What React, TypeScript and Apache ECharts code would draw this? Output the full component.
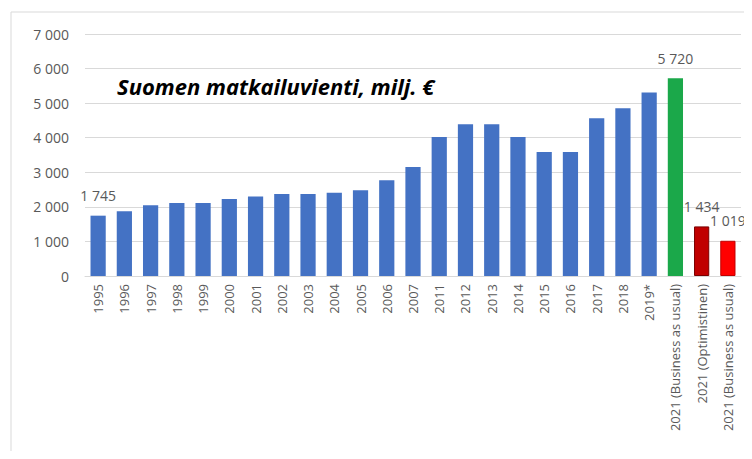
import React, { useEffect, useRef } from "react";
import * as echarts from "echarts";

const categories = [
  "1995", "1996", "1997", "1998", "1999", "2000", "2001", "2002", "2003", "2004",
  "2005", "2006", "2007", "2011", "2012", "2013", "2014", "2015", "2016", "2017",
  "2018", "2019*", "2021 (Business as usual)", "2021 (Optimistinen)", "2021 (Business as usual)",
];
const values = [
  1745, 1870, 2045, 2110, 2110, 2230, 2300, 2375, 2375, 2410,
  2480, 2770, 3150, 4020, 4390, 4390, 4020, 3585, 3585, 4565,
  4855, 5310, 5720, 1434, 1019,
];
const labelledIndices = [0, 22, 23, 24];
const yTicks = [0, 1000, 2000, 3000, 4000, 5000, 6000, 7000];
const titleText = "Suomen matkailuvienti, milj. €";

const fmt = (v: number) => String(v).replace(/\B(?=(\d{3})+(?!\d))/g, " ");

export default function App() {
  const ref = useRef<HTMLDivElement>(null);
  useEffect(() => {
    if (!ref.current) return;
    const chart = echarts.init(ref.current, null, { renderer: "svg" });
    const blue = "#4472C4";
    const colorFor = (i: number) => {
      if (i === 22) return { color: "#1BA84A", borderColor: "#1BA84A", borderWidth: 0 };
      if (i === 23) return { color: "#C00000", borderColor: "#7A0000", borderWidth: 1 };
      if (i === 24) return { color: "#FF0000", borderColor: "#C00000", borderWidth: 1 };
      return { color: blue };
    };
    const data = values.map((v, i) => ({
      value: v,
      itemStyle: colorFor(i),
      label: { show: labelledIndices.includes(i) },
    }));
    chart.setOption({
      animation: false,
      backgroundColor: "#ffffff",
      textStyle: { fontFamily: "Open Sans" },
      title: {
        text: titleText,
        left: 112,
        top: 70,
        textStyle: {
          fontFamily: "Open Sans",
          fontStyle: "italic",
          fontWeight: "bold",
          fontSize: 22,
          color: "#000000",
        },
      },
      graphic: [
        { type: "line", shape: { x1: 11, y1: 12, x2: 752, y2: 12 }, style: { stroke: "#d9d9d9", lineWidth: 1 } },
        { type: "line", shape: { x1: 11, y1: 12, x2: 11, y2: 459 }, style: { stroke: "#d9d9d9", lineWidth: 1 } },
      ],
      grid: { left: 85, right: 11, top: 34, bottom: 183, containLabel: false },
      xAxis: {
        type: "category",
        data: categories,
        axisTick: { show: false },
        axisLine: { lineStyle: { color: "#d9d9d9" } },
        axisLabel: {
          rotate: 90,
          interval: 0,
          color: "#595959",
          fontSize: 13,
          margin: 8,
        },
      },
      yAxis: {
        type: "value",
        min: yTicks[0],
        max: yTicks[yTicks.length - 1],
        interval: 1000,
        axisLine: { show: false },
        axisTick: { show: false },
        splitLine: { lineStyle: { color: "#d9d9d9" } },
        axisLabel: {
          color: "#595959",
          fontSize: 14,
          margin: 16,
          formatter: (v: number) => fmt(v),
        },
      },
      series: [
        {
          type: "bar",
          data,
          barCategoryGap: "42%",
          label: {
            position: "top",
            distance: 13,
            color: "#595959",
            fontSize: 14,
            formatter: (p: any) => fmt(p.value),
          },
        },
      ],
    });
    return () => chart.dispose();
  }, []);
  return <div ref={ref} style={{ width: 752, height: 459, margin: -8 }} />;
}
